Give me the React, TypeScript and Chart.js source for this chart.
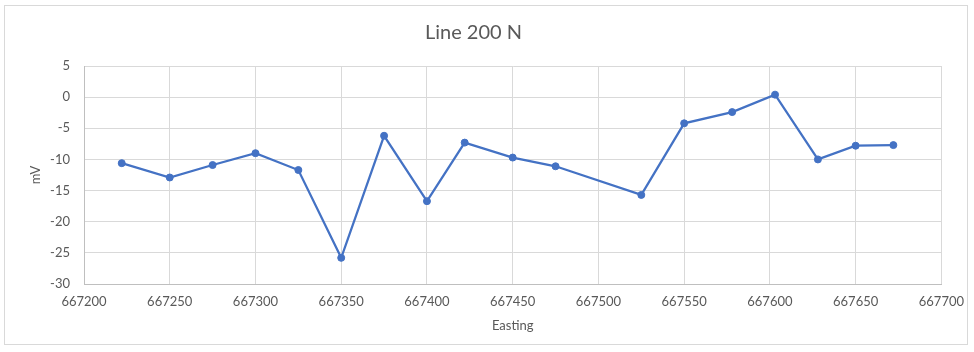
import React, { useEffect, useRef } from "react";
import { Chart, registerables } from "chart.js";

Chart.register(...registerables);

// Survey readings along Line 200 N
const easting = [
  667222, 667250, 667275, 667300, 667325, 667350, 667375, 667400, 667422,
  667450, 667475, 667525, 667550, 667578, 667603, 667628, 667650, 667672,
];
const millivolts = [
  -10.6, -12.9, -10.9, -9.0, -11.7, -25.8, -6.2, -16.7, -7.3,
  -9.7, -11.1, -15.7, -4.2, -2.4, 0.4, -10.0, -7.8, -7.7,
];
const xTicks = { min: 667200, max: 667700, step: 50 };
const yTicks = { min: -30, max: 5, step: 5 };

const FONT = "Lato, 'Open Sans', sans-serif";
const TEXT = "#595959";
const GRID = "#d9d9d9";
const LINE = "#4472c4";

export default function App() {
  const canvasRef = useRef<HTMLCanvasElement | null>(null);

  useEffect(() => {
    if (!canvasRef.current) return;
    const chart = new Chart(canvasRef.current, {
      type: "line",
      data: {
        datasets: [
          {
            label: "mV",
            data: easting.map((x, i) => ({ x, y: millivolts[i] })),
            borderColor: LINE,
            backgroundColor: LINE,
            borderWidth: 2.25,
            pointRadius: 3.5,
            pointBorderWidth: 1,
            pointBackgroundColor: LINE,
            pointBorderColor: LINE,
            tension: 0,
          },
        ],
      },
      options: {
        animation: false,
        responsive: false,
        maintainAspectRatio: false,
        layout: { padding: { left: 0, right: 27, top: 0, bottom: 0 } },
        plugins: {
          legend: { display: false },
          tooltip: { enabled: false },
          title: {
            display: true,
            text: "Line 200 N",
            color: TEXT,
            font: { family: FONT, size: 20, weight: "normal" },
            padding: { top: 21, bottom: 21 },
          },
        },
        scales: {
          x: {
            type: "linear",
            min: xTicks.min,
            max: xTicks.max,
            afterFit: (scale: any) => {
              scale.height = 68;
            },
            ticks: {
              stepSize: xTicks.step,
              color: TEXT,
              font: { family: FONT, size: 13 },
              padding: 10,
              maxRotation: 0,
              autoSkip: false,
              callback: (v: any) => String(v),
            },
            grid: { color: GRID, lineWidth: 1, drawTicks: false },
            border: { color: "#bfbfbf", width: 1 },
            title: {
              display: true,
              text: "Easting",
              color: TEXT,
              font: { family: FONT, size: 13 },
              padding: { top: 0, bottom: 18 },
            },
          },
          y: {
            type: "linear",
            min: yTicks.min,
            max: yTicks.max,
            afterFit: (scale: any) => {
              scale.width = 84;
            },
            ticks: {
              stepSize: yTicks.step,
              color: TEXT,
              font: { family: FONT, size: 13 },
              padding: 14,
            },
            grid: { color: GRID, lineWidth: 1, drawTicks: false },
            border: { color: "#bfbfbf", width: 1 },
            title: {
              display: true,
              text: "mV",
              color: TEXT,
              font: { family: FONT, size: 13 },
              padding: { top: 28, bottom: 0 },
            },
          },
        },
      },
    });
    return () => chart.destroy();
  }, []);

  return (
    <div
      style={{
        position: "fixed",
        left: 0,
        top: 0,
        width: 974,
        height: 352,
        background: "#ffffff",
      }}
    >
      <div
        style={{
          position: "absolute",
          left: 4,
          top: 5,
          width: 964,
          height: 340,
          border: "1px solid #d9d9d9",
          boxSizing: "border-box",
        }}
      />
      <canvas
        ref={canvasRef}
        width={974}
        height={352}
        style={{ position: "absolute", left: 0, top: 0, width: 974, height: 352 }}
      />
    </div>
  );
}
